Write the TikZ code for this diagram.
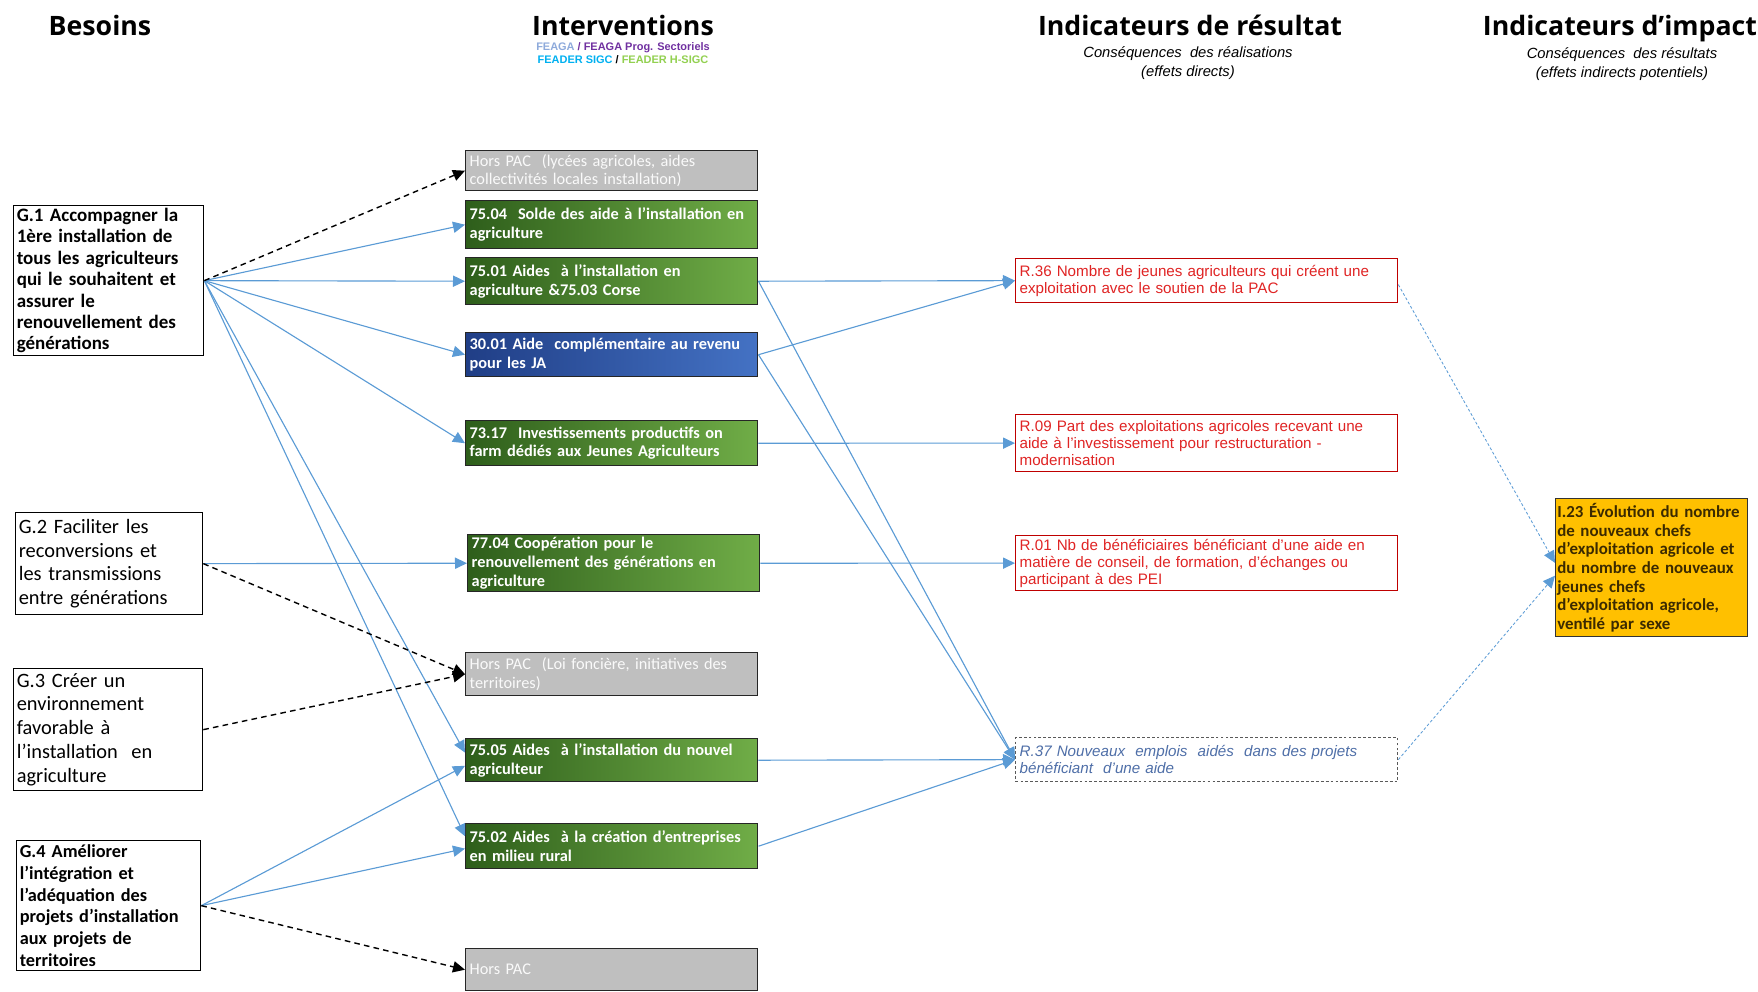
\documentclass[tikz,border=0pt]{standalone}
\usepackage{fontspec}
\setmainfont{Carlito}
\newfontfamily\arialf{Liberation Sans}
\newfontfamily\titref{Open Sans}
\usetikzlibrary{arrows.meta,positioning}
\definecolor{lienbleu}{HTML}{5B9BD5}
\definecolor{vertfonce}{HTML}{2E5E1B}
\definecolor{vertclair}{HTML}{70AD47}
\definecolor{bleufonce}{HTML}{203E86}
\definecolor{bleuclair}{HTML}{4472C4}
\definecolor{grisbox}{HTML}{BFBFBF}
\definecolor{rougeres}{HTML}{E02424}
\definecolor{orangeimp}{HTML}{FFC000}
\definecolor{texteimp}{HTML}{3B2A00}
\definecolor{feaga}{HTML}{8EAADB}
\definecolor{feagaprog}{HTML}{7030A0}
\definecolor{feadersigc}{HTML}{00B0F0}
\definecolor{feaderhsigc}{HTML}{92D050}
\definecolor{bleuRtt}{HTML}{4F6FA8}
\tikzset{>={Triangle[length=3mm,width=2.8mm]}}
\tikzset{
  titre/.style={anchor=base, font=\titref\fontsize{19}{22}\selectfont\bfseries},
  soustitre/.style={font=\arialf\fontsize{10.5}{13}\selectfont\itshape, align=center},
  besoin/.style={draw, line width=0.9pt, fill=white, anchor=north west, align=left, inner xsep=0.08cm, inner ysep=1pt},
  interv/.style={draw=black!85, line width=1pt, anchor=north west, align=left, text width=7.1cm, inner xsep=0.1cm, inner ysep=1pt, text=white, font=\fontsize{11.6}{13.4}\selectfont\bfseries},
  vert/.style={interv, left color=vertfonce, right color=vertclair},
  bleu/.style={interv, left color=bleufonce, right color=bleuclair},
  horspac/.style={interv, fill=grisbox, text=white!96!gray, font=\fontsize{11.6}{13.4}\selectfont},
  resultat/.style={draw=red!75!black, line width=0.9pt, fill=white, anchor=north west, align=left, text width=9.35cm, inner xsep=0.1cm, inner ysep=1pt, text=rougeres, font=\arialf\fontsize{10.8}{12}\selectfont},
  lien/.style={->, lienbleu, line width=0.8pt},
  horsl/.style={->, black, line width=1pt, dash pattern=on 4pt off 3pt},
  impactl/.style={->, lienbleu, line width=0.6pt, dash pattern=on 2pt off 1.5pt}
}
\begin{document}
\begin{tikzpicture}[x=0.025cm, y=-0.025cm]
\useasboundingbox (0,0) rectangle (1758,992);
\node[titre] (tB) at (100,36) {Besoins};
\node[titre] (tI) at (623,36) {Interventions};
\node[font=\arialf\fontsize{7.8}{9.2}\selectfont\bfseries, align=center] (tIs) at (623,53) {\textcolor{feaga}{FEAGA} \textcolor{feagaprog}{/ FEAGA Prog. Sectoriels}\\\textcolor{feadersigc}{FEADER SIGC} / \textcolor{feaderhsigc}{FEADER H-SIGC}};
\node[titre] (tR) at (1190,36) {Indicateurs de résultat};
\node[soustitre] (tRs) at (1188,63) {Conséquences\ \ des réalisations\\(effets directs)};
\node[titre] (tP) at (1620,36) {Indicateurs d’impact};
\node[soustitre] (tPs) at (1622,64) {Conséquences\ \ des résultats\\(effets indirects potentiels)};

\node[besoin, text width=4.59cm, minimum height=3.75cm, font=\fontsize{13.5}{15.2}\selectfont\bfseries] (G1) at (13,205) {G.1 Accompagner la\\1ère installation de\\tous les agriculteurs\\qui le souhaitent et\\assurer le\\renouvellement des\\générations};
\node[besoin, text width=4.515cm, minimum height=2.55cm, font=\fontsize{14.5}{17}\selectfont] (G2) at (15,512) {G.2 Faciliter les\\reconversions et\\les transmissions\\entre générations};
\node[besoin, text width=4.565cm, minimum height=3.05cm, font=\fontsize{14.5}{17}\selectfont] (G3) at (13,668) {G.3 Créer un\\environnement\\favorable à\\l’installation\ \ en\\agriculture};
\node[besoin, text width=4.44cm, minimum height=3.25cm, font=\fontsize{13}{15.6}\selectfont\bfseries] (G4) at (16,840) {G.4 Améliorer\\l’intégration et\\l’adéquation des\\projets d’installation\\aux projets de\\territoires};

\node[horspac, minimum height=1cm] (HP1) at (465,150) {Hors PAC\ \ (lycées agricoles, aides\\collectivités locales installation)};
\node[vert, minimum height=1.2cm] (I7504) at (465,200) {75.04\ \ Solde des aide à l’installation en\\agriculture};
\node[vert, minimum height=1.175cm] (I7501) at (465,257) {75.01 Aides\ \ à l’installation en\\agriculture \&75.03 Corse};
\node[bleu, minimum height=1.1cm] (I3001) at (465,332) {30.01 Aide\ \ complémentaire au revenu\\pour les JA};
\node[vert, minimum height=1.125cm] (I7317) at (465,420) {73.17\ \ Investissements productifs on\\farm dédiés aux Jeunes Agriculteurs};
\node[vert, minimum height=1.425cm] (I7704) at (467,534) {77.04 Coopération pour le\\renouvellement des générations en\\agriculture};
\node[horspac, minimum height=1.075cm] (HP2) at (465,652) {Hors PAC\ \ (Loi foncière, initiatives des\\territoires)};
\node[vert, minimum height=1.075cm] (I7505) at (465,738) {75.05 Aides\ \ à l’installation du nouvel\\agriculteur};
\node[vert, minimum height=1.125cm] (I7502) at (465,823) {75.02 Aides\ \ à la création d’entreprises\\en milieu rural};
\node[horspac, minimum height=1.05cm] (HP3) at (465,948) {Hors PAC};

\node[resultat, minimum height=1.1cm] (R36) at (1015,258) {R.36 Nombre de jeunes agriculteurs qui créent une\\exploitation avec le soutien de la PAC};
\node[resultat, minimum height=1.425cm] (R09) at (1015,414) {R.09 Part des exploitations agricoles recevant une\\aide à l’investissement pour restructuration -\\modernisation};
\node[resultat, minimum height=1.375cm] (R01) at (1015,535) {R.01 Nb de bénéficiaires bénéficiant d’une aide en\\matière de conseil, de formation, d’échanges ou\\participant à des PEI};
\node[resultat, draw=black!65, dash pattern=on 2pt off 1.5pt, text=bleuRtt, font=\arialf\fontsize{10.8}{12}\selectfont\itshape, minimum height=1.1cm] (R37) at (1015,737) {R.37 Nouveaux\ \ emplois\ \ aidés\ \ dans des projets\\bénéficiant\ \ d’une aide};

\node[draw=black!80, line width=1pt, fill=orangeimp, anchor=north west, align=left, text width=4.72cm, inner xsep=0.04cm, inner ysep=1pt, minimum height=3.45cm, text=texteimp, font=\fontsize{12}{13.3}\selectfont\bfseries] (I23) at (1555,498) {I.23 Évolution du nombre\\de nouveaux chefs\\d’exploitation agricole et\\du nombre de nouveaux\\jeunes chefs\\d’exploitation agricole,\\ventilé par sexe};

\foreach \c in {I7504,I7501,I3001,I7317}
  \draw[lien] (G1.east) -- (\c.west);
\draw[lien] (G1.east) -- ([yshift=0.19cm]I7505.west);
\draw[lien] (G1.east) -- ([yshift=0.25cm]I7502.west);
\draw[horsl] (G1.east) -- (HP1.west);
\draw[lien] (G2.east) -- (I7704.west);
\draw[horsl] (G2.east) -- (HP2.west);
\draw[horsl] (G3.east) -- (HP2.west);
\draw[lien] (G4.east) -- ([yshift=-0.14cm]I7505.west);
\draw[lien] (G4.east) -- ([yshift=-0.06cm]I7502.west);
\draw[horsl] (G4.east) -- (HP3.west);

\foreach \c in {I7501,I3001}
  \draw[lien] (\c.east) -- (R36.west);
\foreach \c in {I7501,I3001,I7505,I7502}
  \draw[lien] (\c.east) -- (R37.west);
\draw[lien] (I7317.east) -- (R09.west);
\draw[lien] (I7704.east) -- (R01.west);
\draw[impactl] ([yshift=-0.1cm]R36.east) -- ([yshift=0.12cm]I23.west);
\draw[impactl] (R37.east) -- ([yshift=-0.2cm]I23.west);
\end{tikzpicture}
\end{document}
